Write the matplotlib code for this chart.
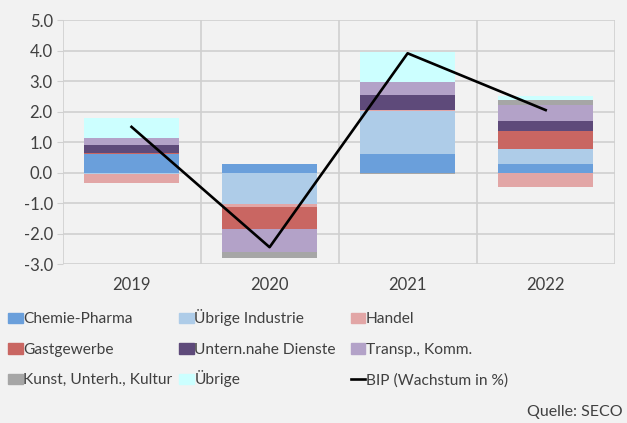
import numpy as np
import matplotlib
matplotlib.use('Agg')
import matplotlib.pyplot as plt
from matplotlib.patches import Rectangle
from matplotlib.lines import Line2D

plt.rcParams['font.family'] = ['Lato', 'DejaVu Sans']

years = ['2019', '2020', '2021', '2022']
sectors = ['Chemie-Pharma', 'Übrige Industrie', 'Handel', 'Gastgewerbe',
           'Untern.nahe Dienste', 'Transp., Komm.', 'Kunst, Unterh., Kultur', 'Übrige']
colors = ['#6A9FDB', '#AECCE8', '#E2A6A6', '#C96662',
          '#5E4A7A', '#B3A2C8', '#A6A6A6', '#CCFFFF']

chemie = [0.62, 0.29, 0.60, 0.27]
uebrige_ind = [-0.05, -1.03, 1.41, 0.51]
handel = [-0.28, -0.09, 0.03, -0.46]
gast = [0.04, -0.72, 0.02, 0.59]
untern = [0.26, -0.02, 0.47, 0.32]
transp = [0.20, -0.73, 0.43, 0.54]
kunst = [0.0, -0.20, -0.05, 0.14]
uebrige = [0.67, 0.0, 1.00, 0.15]
bip = [1.5, -2.44, 3.91, 2.05]

series = [chemie, uebrige_ind, handel, gast, untern, transp, kunst, uebrige]

W, H = 627, 423
fig = plt.figure(figsize=(W / 100, H / 100), dpi=100, facecolor='#F2F2F2')
ax = fig.add_axes([62.5 / W, 1 - 264.3 / H, (614.7 - 62.5) / W, (264.3 - 20) / H])
ax.set_facecolor('#F2F2F2')

x = np.arange(len(years))
pos = np.zeros(len(years))
neg = np.zeros(len(years))
for vals, col in zip(series, colors):
    v = np.array(vals)
    bottom = np.where(v >= 0, pos, neg)
    ax.bar(x, v, 0.69, bottom=bottom, color=col, zorder=3)
    pos += np.where(v >= 0, v, 0)
    neg += np.where(v < 0, v, 0)

ax.plot(x, bip, color='black', lw=1.9, zorder=4)

grid_col = '#D0D0D0'
ax.set_xlim(-0.5, 3.5)
ax.set_ylim(-3, 5)
ax.set_yticks(np.arange(-3, 5.1, 1))
ax.set_yticklabels([f'{v:.1f}' for v in np.arange(-3, 5.1, 1)])
ax.set_xticks(x)
ax.set_xticklabels(years)
for yv in np.arange(-3, 5.1, 1):
    ax.axhline(yv, color=grid_col, lw=1.2, zorder=1)
for xv in np.arange(-0.5, 3.6, 1):
    ax.axvline(xv, color=grid_col, lw=1.2, zorder=1)
for s in ax.spines.values():
    s.set_visible(False)
ax.tick_params(axis='y', length=4, color=grid_col, labelsize=12, labelcolor='#404040', pad=3)
ax.tick_params(axis='x', length=0, labelsize=12, labelcolor='#404040', pad=9)

# legend, 3 columns x 3 rows, laid out like the Excel legend
labels = sectors + ['BIP (Wachstum in %)']
col_x = [8.3, 179.3, 351.0]
row_base = [323.3, 353.8, 384.3]
for i, lab in enumerate(labels):
    r, c = divmod(i, 3)
    px, py = col_x[c], row_base[r]
    if i < len(colors):
        fig.patches.append(Rectangle((px / W, 1 - py / H), 14.4 / W, 10.7 / H,
                                     transform=fig.transFigure, color=colors[i]))
    else:
        fig.lines.append(Line2D([px / W, (px + 14.4) / W], [1 - (py - 5.3) / H] * 2,
                                transform=fig.transFigure, color='black', lw=1.9))
    fig.text((px + 15) / W, 1 - py / H, lab, ha='left', va='baseline',
             fontsize=11.2, color='#404040')

fig.text(623 / W, 1 - 412 / H, 'Quelle: SECO', ha='right', va='center',
         fontsize=11.5, color='#404040')

fig.savefig('out.png', dpi=100, facecolor=fig.get_facecolor())
